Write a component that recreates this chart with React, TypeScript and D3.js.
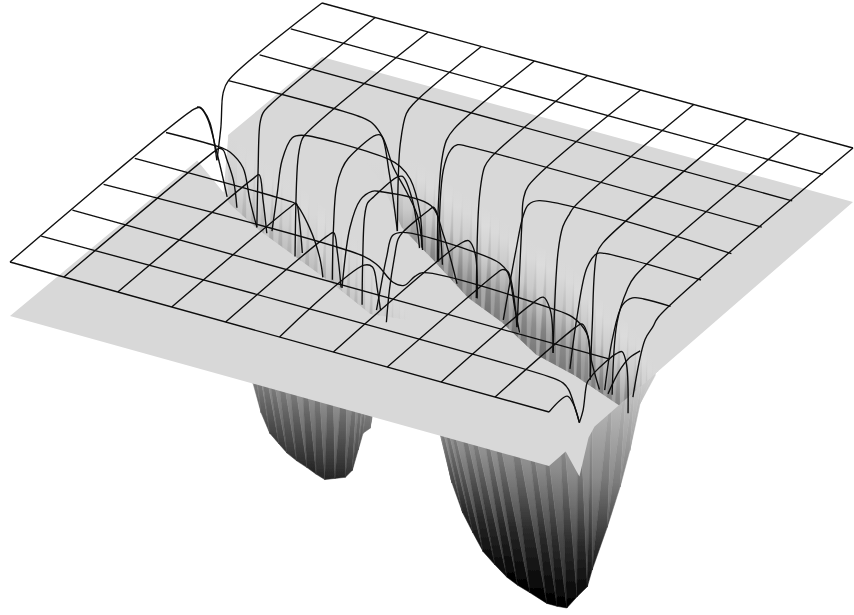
import React from "react";
import * as d3 from "d3";

type Pt = [number, number];

// grid corners of the wire mesh
const frontEdgeX = [10, 549];
const frontEdgeY = [262, 412];
const backEdgeX = [322, 853];
const backEdgeY = [3, 148];
const plateDrop = 54;
const gridTicks = d3.range(0, 11);

// wire depth profiles: [position along the wire, depth], index = row v
const rowWires: Pt[][][] = [
	[[[0, 0], [10, 0]]],
	[[[0, 0], [9.55, 0], [9.7, 2], [9.8, 7], [9.93, 25], [10, 37]]],
	[[[0, 0], [10, 0]]],
	[
		[[0, 0], [4.85, 0], [5.1, 5], [5.4, 18], [5.6, 18], [5.8, 6], [5.95, 0], [8.3, 0], [8.74, 3], [9, 15], [9.09, 41], [9.24, 68]],
		[[9.4, 70], [9.6, 45], [9.8, 28], [10, 18]],
	],
	[
		[[0, 0], [2.85, 0], [3, 1], [3.26, 21], [3.45, 48], [3.51, 67]],
		[[4.51, 85], [4.57, 67], [4.7, 29], [4.81, 6], [5, 0], [6.38, 0], [6.81, 4], [6.96, 11], [7.09, 44], [7.18, 68]],
		[[8.77, 102], [8.92, 47], [9.1, 12], [9.29, 2], [9.5, 0], [10, 0]],
	],
	[
		[[0, 0], [1.05, 0], [1.2, 2], [1.44, 14], [1.57, 45], [1.7, 70]],
		[[3.29, 107], [3.44, 44], [3.63, 14], [3.85, 2], [4, 0], [4.95, 0], [5.18, 25], [5.44, 71]],
		[[7.55, 125], [7.68, 72], [7.87, 19], [8.06, 2], [8.2, 0], [10, 0]],
	],
	[
		[[0, 0], [0.08, 1], [0.2, 10], [0.37, 41], [0.49, 66], [0.56, 82]],
		[[1.4, 104], [1.5, 64], [1.59, 30], [1.78, 5], [1.95, 0], [3.6, 0], [3.8, 4], [3.99, 14], [4.17, 45], [4.21, 79]],
		[[5.73, 129], [5.96, 58], [6.1, 20], [6.2, 7], [6.4, 0], [10, 0]],
	],
	[
		[[0, 0], [2.5, 0], [2.7, 3], [2.9, 15], [3.09, 41], [3.35, 63], [3.55, 84], [3.64, 116]],
		[[3.94, 123], [4.03, 30], [4.17, 8], [4.3, 1], [4.5, 0], [10, 0]],
	],
	[[[0, 0], [10, 0]]],
	[[[0, 0], [10, 0]]],
	[[[0, 0], [10, 0]]],
];

// index = column u
const colWires: Pt[][][] = [
	[
		[[0, 0], [5.9, 0], [6.09, 3], [6.2, 9], [6.41, 27], [6.63, 70]],
		[[6.63, 70], [6.76, 40], [6.83, 8], [7, 0], [10, 0]],
	],
	[
		[[0, 0], [4.85, 0], [5, 1], [5.12, 6], [5.24, 19], [5.45, 45], [5.56, 75]],
		[[6.2, 111], [6.24, 55], [6.3, 10], [6.4, 2], [6.6, 0], [10, 0]],
	],
	[
		[[0, 0], [4.35, 0], [4.55, 1], [4.68, 30], [4.8, 66]],
		[[5.71, 113], [5.8, 19], [5.9, 4], [6, 0], [10, 0]],
	],
	[
		[[0, 0], [3.85, 0], [4.02, 1], [4.12, 20], [4.22, 56]],
		[[5.19, 108], [5.22, 61], [5.32, 19], [5.5, 5], [5.7, 0], [6.6, 0], [6.77, 5], [7.03, 50], [7.29, 114]],
		[[7.29, 114], [7.32, 60], [7.38, 30], [7.58, 4], [7.85, 0], [10, 0]],
	],
	[
		[[0, 0], [3.3, 0], [3.5, 2], [3.62, 25], [3.74, 63]],
		[[4.42, 98], [4.44, 54], [4.5, 12], [4.6, 1], [4.8, 0], [5.55, 0], [5.73, 4], [6.05, 36], [6.28, 90]],
		[[6.86, 119], [6.88, 70], [7, 21], [7.15, 5], [7.4, 0], [10, 0]],
	],
	[
		[[0, 0], [2.75, 0], [3.02, 9], [3.18, 36], [3.28, 59]],
		[[3.47, 76], [3.57, 46], [3.73, 18], [3.85, 3], [4, 0], [4.85, 0], [5, 1], [5.15, 15], [5.29, 66]],
		[[6.39, 128], [6.49, 30], [6.66, 4], [6.85, 0], [10, 0]],
	],
	[
		[[0, 0], [4.15, 0], [4.4, 4], [4.61, 22], [4.68, 69]],
		[[5.98, 132], [6.14, 29], [6.18, 10], [6.35, 0], [10, 0]],
	],
	[
		[[0, 0], [3.6, 0], [3.75, 1], [3.94, 8], [4.17, 49], [4.23, 71]],
		[[5.41, 128], [5.57, 32], [5.73, 10], [5.95, 3], [6.1, 0], [10, 0]],
	],
	[
		[[0, 0], [3, 0], [3.34, 3], [3.57, 22], [3.66, 67]],
		[[4.88, 126], [4.94, 75], [5.1, 5], [5.3, 0], [10, 0]],
	],
	[
		[[0, 0], [2.65, 0], [2.85, 2], [3.05, 20], [3.12, 62]],
		[[3.84, 99], [4, 31], [4.33, 7], [4.6, 0], [10, 0]],
	],
	[
		[[0, 0], [0.6, 0], [0.8, 13], [0.9, 24], [1, 37]],
		[[1, 37], [1.12, 28], [1.25, 4], [1.35, 2], [1.5, 0], [2.2, 0], [2.4, 3], [2.55, 20], [2.6, 70]],
		[[2.76, 58], [3.16, 11], [3.42, 5], [3.6, 0], [10, 0]],
	],
];

// sheet outline: [u, v, depth]
const plateOutline = [
	[0, 0, 0], [10, 0, 0], [10, 0.55, 0], [10, 1, 37], [10, 1.3, 6], [10, 1.5, 0], [10, 2.3, 0], [10, 3.6, 0],
	[10, 10, 0], [0, 10, 0], [0, 7, 0], [0.2, 6.5, 42], [0, 6, 0],
];

// trench footprints on the sheet
const trenchOneOutline: Pt[] = [
	[0, 6], [1.2, 5], [2, 4.5], [3, 4], [4, 3.5], [5, 2.95], [5.75, 3.1],
	[5, 3.9], [4, 4.7], [3, 5.4], [2, 6], [1, 6.5], [0, 7],
];
const trenchTwoOutline: Pt[] = [
	[2.4, 7.3], [3, 6.8], [4, 5.7], [5, 5], [6.1, 4.2], [7, 3.75], [8, 3.1], [8.9, 2.8], [10, 2.3],
	[10, 3.6], [9, 4.6], [8, 5.2], [7, 5.95], [6, 6.35], [5, 6.85], [4, 7.3], [3, 7.8],
];

// far lip of each trench and the streaks on its wall
const farLipOneU = [0, 1, 2, 3, 4, 5, 5.75];
const farLipOneV = [7, 6.5, 6, 5.4, 4.7, 3.9, 3.1];
const farLipTwoU = [2.4, 3, 4, 5, 6, 7, 8, 9, 10];
const farLipTwoV = [7.3, 7.8, 7.3, 6.85, 6.35, 5.95, 5.2, 4.6, 3.6];
const wallOneStreaks = [0, 8, 10, 6, 12, 10, 6, 12, 10, 4, 14, 8, 4, 12, 8, 6, 12, 10, 6, 8, 4, 6, 0, 4];
const wallTwoStreaks = [0, 6, 8, 10, 12, 6, 14, 12, 8, 8, 16, 10, 6, 14, 12, 8, 16, 10, 8, 12, 14, 6, 10, 14, 8, 10, 16, 8, 10, 12, 6, 8];

// the parts of the trenches seen below the front edge
const pitOneU = [4.51, 4.66, 4.82, 4.99, 5.14, 5.32, 5.51, 5.68, 5.84, 6.03, 6.22, 6.35, 6.46, 6.55, 6.68, 6.72];
const pitOneDepth = [0, 27, 45, 53, 60, 65, 69, 73, 76, 72, 68, 59, 37, 19, 12, 0];
const pitOneLean = [0.12, 0.14, 0.16, 0.18, 0.18, 0.16, 0.14, 0.1, 0.06, 0.02, -0.02, -0.06, -0.08, -0.1, -0.1, -0.1];
const pitOneStreaks = [10, 12, 14, 12, 10, 12, 14, 10, 12, 14, 10, 10, 12, 8, 8];
const pitTwoU = [8.01, 8.11, 8.2, 8.4, 8.59, 8.78, 9, 9.22, 9.42, 9.65, 9.96, 10.15, 10.33, 10.52, 10.71, 10.8, 11.08, 11.32, 11.5, 11.69, 11.97];
const pitTwoDepth = [1, 22, 44, 71, 88, 104, 114, 123, 128, 132, 138, 138, 137, 123, 110, 92, 45, 1, -38, -88, -120];
const pitTwoLean = [0.24, 0.24, 0.24, 0.24, 0.24, 0.24, 0.22, 0.22, 0.2, 0.2, 0.18, 0.15, 0.12, 0.08, 0.04, 0, -0.04, -0.06, -0.08, -0.1, -0.1];
const pitTwoStreaks = [10, 10, 12, 14, 12, 14, 12, 14, 14, 12, 12, 10, 10, 12, 12, 10, 8, 6, 4, 2];

const frontX = d3.scaleLinear().domain([0, 10]).range(frontEdgeX);
const frontY = d3.scaleLinear().domain([0, 10]).range(frontEdgeY);
const backX = d3.scaleLinear().domain([0, 10]).range(backEdgeX);
const backY = d3.scaleLinear().domain([0, 10]).range(backEdgeY);
const sideMix = d3.scaleLinear().domain([0, 10]).range([0, 1]);

const project = (u: number, v: number, depth = 0): Pt => [
	d3.interpolateNumber(frontX(u), backX(u))(sideMix(v)),
	d3.interpolateNumber(frontY(u), backY(u))(sideMix(v)) + depth,
];
const onPlate = (u: number, v: number, depth = 0) => project(u, v, depth + plateDrop);

const wireLine = d3.line().curve(d3.curveCatmullRom.alpha(0.5));
const polygon = (pts: Pt[]) => `M${pts.map((p) => `${p[0].toFixed(1)},${p[1].toFixed(1)}`).join("L")}Z`;

const toneToGray = (t: number) => {
	const c = Math.round(Math.max(0, Math.min(255, t)));
	return `rgb(${c},${c},${c})`;
};

// grey of the pit by depth below the front edge
const pitTop = -130;
const pitTone = d3.scaleLinear().domain([pitTop, 0, 70, 150]).range([216, 130, 58, 10]);
const wallDepth = 150;
const wallOneTone = d3.scaleLinear().domain([0, 20, 50, 85, 150]).range([216, 215, 204, 178, 150]);
const wallTwoTone = d3.scaleLinear().domain([0, 20, 50, 85, 150]).range([216, 215, 196, 150, 115]);

type Strip = { id: string; path: string; x: number; y1: number; y2: number; stops: { offset: number; color: string }[] };

const pitStrips = (name: string, us: number[], depths: number[], leans: number[], streaks: number[]): Strip[] =>
	streaks.flatMap((shift, i) => {
		const top = (k: number) => {
			const drop = depths[k] - pitTop;
			const [x, y] = project(us[k], 0, plateDrop + pitTop);
			return [x - leans[k] * drop, y] as Pt;
		};
		const bottom = (k: number) => project(us[k], 0, plateDrop + depths[k]);
		const y1 = Math.min(top(i)[1], top(i + 1)[1]);
		const deep = Math.max(depths[i], depths[i + 1]);
		const y2 = y1 + (deep - pitTop);
		const levels = pitTone.domain().filter((d) => d < deep).concat([deep]);
		const stopsFor = (s: number) =>
			levels.map((d) => ({
				offset: (d - pitTop) / (deep - pitTop),
				color: toneToGray(pitTone(d) + (s * (d - pitTop)) / 150),
			}));
		// each mesh cell is two triangles with slightly different light
		return [
			{ id: `${name}-${i}a`, path: polygon([top(i), top(i + 1), bottom(i)]), x: top(i)[0], y1, y2, stops: stopsFor(shift) },
			{ id: `${name}-${i}b`, path: polygon([top(i + 1), bottom(i + 1), bottom(i)]), x: top(i)[0], y1, y2, stops: stopsFor(-shift) },
		];
	});

const wallStrips = (name: string, lipU: number[], lipV: number[], streaks: number[], tone: any): Strip[] => {
	const vAt = d3.scaleLinear().domain(lipU).range(lipV);
	const step = (lipU[lipU.length - 1] - lipU[0]) / streaks.length;
	return streaks.flatMap((shift, i) => {
		const a = lipU[0] + step * i;
		const b = a + step;
		const p0 = onPlate(a, vAt(a));
		const p1 = onPlate(b, vAt(b));
		const q0: Pt = [p0[0], p0[1] + wallDepth];
		const q1: Pt = [p1[0], p1[1] + wallDepth];
		const y1 = Math.min(p0[1], p1[1]);
		const stopsFor = (s: number) =>
			tone.domain().map((d: number) => ({
				offset: d / wallDepth,
				color: toneToGray(tone(d) + (s * d) / 70),
			}));
		return [
			{ id: `${name}-${i}a`, path: polygon([p0, p1, q0]), x: p0[0], y1, y2: y1 + wallDepth, stops: stopsFor(shift) },
			{ id: `${name}-${i}b`, path: polygon([p1, q1, q0]), x: p0[0], y1, y2: y1 + wallDepth, stops: stopsFor(-shift) },
		];
	});
};

const pits = [
	...pitStrips("pit1", pitOneU, pitOneDepth, pitOneLean, pitOneStreaks),
	...pitStrips("pit2", pitTwoU, pitTwoDepth, pitTwoLean, pitTwoStreaks),
];
const walls = [
	{ clip: "trench1", outline: trenchOneOutline, strips: wallStrips("wall1", farLipOneU, farLipOneV, wallOneStreaks, wallOneTone) },
	{ clip: "trench2", outline: trenchTwoOutline, strips: wallStrips("wall2", farLipTwoU, farLipTwoV, wallTwoStreaks, wallTwoTone) },
];

const Gradient = ({ s }: { s: Strip }) => (
	<linearGradient id={s.id} gradientUnits="userSpaceOnUse" x1={s.x} x2={s.x} y1={s.y1} y2={s.y2}>
		{s.stops.map((st, i) => (
			<stop key={i} offset={st.offset} stopColor={st.color} />
		))}
	</linearGradient>
);

const App = () => {
	const plateColor = "#d8d8d8";
	return (
		<svg width={854} height={615} style={{ position: "absolute", left: 0, top: 0, background: "#fff" }}>
			<defs>
				{pits.map((s) => <Gradient key={s.id} s={s} />)}
				{walls.map((w) => w.strips.map((s) => <Gradient key={s.id} s={s} />))}
				{walls.map((w) => (
					<clipPath key={w.clip} id={w.clip}>
						<path d={polygon(w.outline.map(([u, v]) => onPlate(u, v)))} />
					</clipPath>
				))}
				<filter id="soft" x="-5%" y="-5%" width="110%" height="110%">
					<feGaussianBlur stdDeviation={0.45} />
				</filter>
			</defs>

			<g filter="url(#soft)">
				<g>
					{pits.map((s) => (
						<path key={s.id} d={s.path} fill={`url(#${s.id})`} stroke={`url(#${s.id})`} strokeWidth={0.5} />
					))}
				</g>

				<path d={polygon(plateOutline.map(([u, v, d]) => onPlate(u, v, d)))} fill={plateColor} />

				{walls.map((w) => (
					<g key={w.clip} clipPath={`url(#${w.clip})`}>
						{w.strips.map((s) => (
							<path key={s.id} d={s.path} fill={`url(#${s.id})`} stroke={`url(#${s.id})`} strokeWidth={0.5} />
						))}
					</g>
				))}

				<g fill="none" stroke="#0c0c0c" strokeWidth={1.35} strokeLinejoin="round">
					{rowWires.map((segs, v) =>
						segs.map((seg, i) => (
							<path key={`r${gridTicks[v]}-${i}`} d={wireLine(seg.map(([t, d]) => project(t, v, d))) || ""} />
						))
					)}
					{colWires.map((segs, u) =>
						segs.map((seg, i) => (
							<path key={`c${gridTicks[u]}-${i}`} d={wireLine(seg.map(([t, d]) => project(u, t, d))) || ""} />
						))
					)}
				</g>
			</g>
		</svg>
	);
};

export default App;
